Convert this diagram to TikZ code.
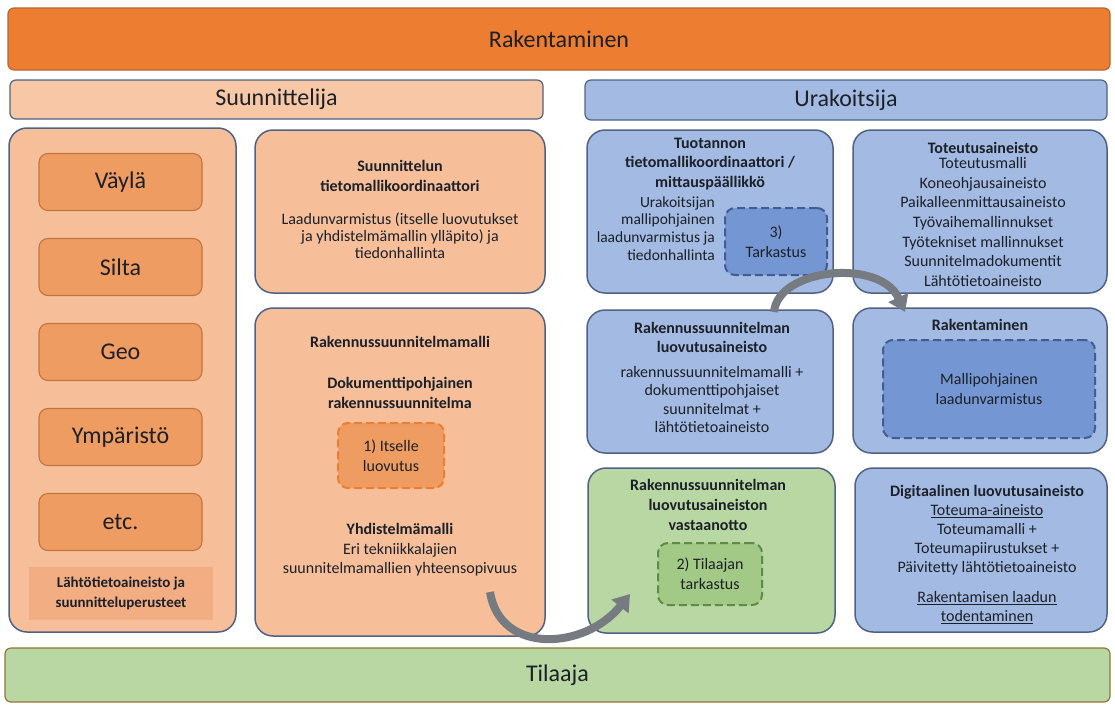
\documentclass[tikz,border=0pt]{standalone}
\usepackage{fontspec}
\setmainfont{Carlito}
\usetikzlibrary{arrows.meta}

\definecolor{oranssi}{HTML}{ED7D31}
\definecolor{oranssireuna}{HTML}{B8662E}
\definecolor{persikka}{HTML}{F6BF9A}
\definecolor{persikkabar}{HTML}{F8C7A6}
\definecolor{lahto}{HTML}{F2AD82}
\definecolor{keskioranssi}{HTML}{EF9C63}
\definecolor{ruskea}{HTML}{C2753F}
\definecolor{sininen}{HTML}{A3BBE3}
\definecolor{tummasininen}{HTML}{7497D4}
\definecolor{sinireuna}{HTML}{3F5D92}
\definecolor{vihrea}{HTML}{B9D7A2}
\definecolor{tummavihrea}{HTML}{A2C985}
\definecolor{vihreareuna}{HTML}{5F8A48}
\definecolor{reuna}{HTML}{4F6285}
\definecolor{tekstivari}{HTML}{1C2028}
\definecolor{nuolivari}{HTML}{767B82}

\tikzset{
  bar/.style={draw, line width=1.2pt, rounded corners=6pt, inner sep=0pt,
    text=tekstivari, font=\fontsize{24}{28}\selectfont},
  box/.style={draw=reuna, line width=1.5pt, rounded corners=18pt, inner sep=0pt},
  tekniikka/.style={draw=ruskea, line width=1.1pt, fill=keskioranssi, rounded corners=9pt,
    minimum width=163, minimum height=57, inner sep=0pt, text=tekstivari,
    font=\fontsize{24}{28}\selectfont},
  tarkastus/.style={dashed, dash pattern=on 8pt off 4pt, line width=2pt,
    rounded corners=10pt, inner sep=0pt, align=center, text=tekstivari,
    font=\fontsize{16}{20}\selectfont},
  teksti/.style={inner sep=0pt, align=center, text=tekstivari,
    font=\fontsize{16}{19.5}\selectfont},
  otsikko/.style={inner sep=0pt, align=center, text=tekstivari,
    font=\bfseries\fontsize{16}{19.5}\selectfont},
  nuoli/.style={draw=nuolivari, line width=8pt,
    -{Triangle[length=16pt,width=21pt]}}
}

\begin{document}
\begin{tikzpicture}[x=1pt,y=-1pt]
  \useasboundingbox (0,0) rectangle (1115,707);

  % ylarivin palkit
  \node[bar, fill=oranssi, draw=oranssireuna, minimum width=1102, minimum height=62]
    (rakentaminen) at (559,39) {Rakentaminen};
  \node[bar, fill=persikkabar, draw=reuna, minimum width=533, minimum height=39]
    (suunnittelija) at (276.5,99.5) {Suunnittelija};
  \node[bar, fill=sininen, draw=reuna, minimum width=522, minimum height=40]
    (urakoitsija) at (846,100) {Urakoitsija};

  % suunnittelijan tekniikkalajit
  \node[box, fill=persikka, minimum width=227, minimum height=504] (lajit) at (122.5,380) {};
  \foreach \nimi [count=\i] in {Väylä,Silta,Geo,Ympäristö,etc.}
    \node[tekniikka] (laji\i) at (120.5,{182+85*(\i-1)}) {\nimi};
  \node[fill=lahto, minimum width=184, minimum height=53, inner sep=0pt, align=center,
    text=tekstivari, font=\bfseries\fontsize{15}{19.5}\selectfont]
    (lahtotieto) at (121,593.5) {Lähtötietoaineisto ja\\suunnitteluperusteet};

  % suunnittelun koordinaattori
  \node[box, fill=persikka, minimum width=290, minimum height=163] (koordinaattori) at (400,211.5) {};
  \node[otsikko] (koordotsikko) at (400,176) {Suunnittelun\\tietomallikoordinaattori};
  \node[teksti, font=\fontsize{16}{17}\selectfont] (koordteksti) at (400,236)
    {Laadunvarmistus (itselle luovutukset\\ja yhdistelmämallin ylläpito) ja\\tiedonhallinta};

  % rakennussuunnitelmamalli
  \node[box, fill=persikka, minimum width=290, minimum height=328] (rsmalli) at (400,472) {};
  \node[otsikko] (rsotsikko) at (400,342) {Rakennussuunnitelmamalli};
  \node[otsikko] (dokumentti) at (400,393) {Dokumenttipohjainen\\rakennussuunnitelma};
  \node[tarkastus, draw=oranssi, fill=keskioranssi, minimum width=106, minimum height=65]
    (itselle) at (391,455.5) {1) Itselle\\luovutus};
  \node[teksti] (yhdistelma) at (400,550)
    {\textbf{Yhdistelmämalli}\\Eri tekniikkalajien\\suunnitelmamallien yhteensopivuus};

  % urakoitsijan koordinaattori
  \node[box, fill=sininen, minimum width=246, minimum height=163] (tuotanto) at (710,211.5) {};
  \node[otsikko] (tuotanto otsikko) at (710,164)
    {Tuotannon\\tietomallikoordinaattori /\\mittauspäällikkö};
  \node[teksti, align=right, anchor=east, font=\fontsize{15.5}{17.7}\selectfont]
    (tuotanto teksti) at (715,228.5)
    {Urakoitsijan\\mallipohjainen\\laadunvarmistus ja\\tiedonhallinta};
  \node[tarkastus, draw=sinireuna, fill=tummasininen, minimum width=102, minimum height=67]
    (tarkastus3) at (776,241.5) {3)\\Tarkastus};

  % toteutusaineisto
  \node[box, fill=sininen, minimum width=254, minimum height=163] (toteutus) at (980,211.5) {};
  \node[otsikko] (toteutus otsikko) at (983,148) {Toteutusaineisto};
  \node[teksti, font=\fontsize{16}{19.7}\selectfont] (toteutus lista) at (983,222)
    {Toteutusmalli\\Koneohjausaineisto\\Paikalleenmittausaineisto\\Työvaihemallinnukset\\%
     Työtekniset mallinnukset\\Suunnitelmadokumentit\\Lähtötietoaineisto};

  % luovutusaineisto
  \node[box, fill=sininen, minimum width=246, minimum height=143] (luovutus) at (710,381.5) {};
  \node[otsikko] (luovutus otsikko) at (712,337.5) {Rakennussuunnitelman\\luovutusaineisto};
  \node[teksti, font=\fontsize{16}{18.3}\selectfont] (luovutus teksti) at (712,399.5)
    {rakennussuunnitelmamalli +\\dokumenttipohjaiset\\suunnitelmat +\\lähtötietoaineisto};

  % rakentaminen
  \node[box, fill=sininen, minimum width=254, minimum height=145] (rakennus) at (980,380.5) {};
  \node[otsikko] (rakennus otsikko) at (980,325) {Rakentaminen};
  \node[tarkastus, draw=sinireuna, fill=tummasininen, minimum width=212, minimum height=98]
    (mallipohjainen) at (989,389) {Mallipohjainen\\laadunvarmistus};

  % tilaajan vastaanotto
  \node[box, fill=vihrea, minimum width=247, minimum height=165] (vastaanotto) at (711.5,550.5) {};
  \node[otsikko, font=\bfseries\fontsize{16}{20}\selectfont] (vastaanotto otsikko) at (708,505)
    {Rakennussuunnitelman\\luovutusaineiston\\vastaanotto};
  \node[tarkastus, draw=vihreareuna, fill=tummavihrea, minimum width=104, minimum height=62]
    (tilaajan) at (710,574) {2) Tilaajan\\tarkastus};

  % digitaalinen luovutusaineisto
  \node[box, fill=sininen, minimum width=252, minimum height=164] (digitaalinen) at (981,550) {};
  \node[otsikko] (digi otsikko) at (987,492) {Digitaalinen luovutusaineisto};
  \node[teksti, font=\fontsize{16}{19}\selectfont] (toteuma) at (987,540)
    {\underline{Toteuma-aineisto}\\Toteumamalli +\\Toteumapiirustukset +\\Päivitetty lähtötietoaineisto};
  \node[teksti, font=\fontsize{16}{19}\selectfont] (todentaminen) at (987,607.5)
    {\underline{Rakentamisen laadun}\\\underline{todentaminen}};

  % tilaaja
  \node[bar, fill=vihrea, draw=oranssireuna!60!vihreareuna, minimum width=1105, minimum height=54]
    (tilaaja) at (557.5,675) {Tilaaja};

  % siirtonuolet
  \coordinate (n1alku) at (490,592);
  \coordinate (n1loppu) at (630,594);
  \draw[nuoli] (n1alku) .. controls (500,655) and (585,650) .. (n1loppu);
  \coordinate (n2alku) at (774,312);
  \coordinate (n2loppu) at (905,312);
  \draw[nuoli] (n2alku) .. controls (778,268) and (880,258) .. (n2loppu);
\end{tikzpicture}
\end{document}
